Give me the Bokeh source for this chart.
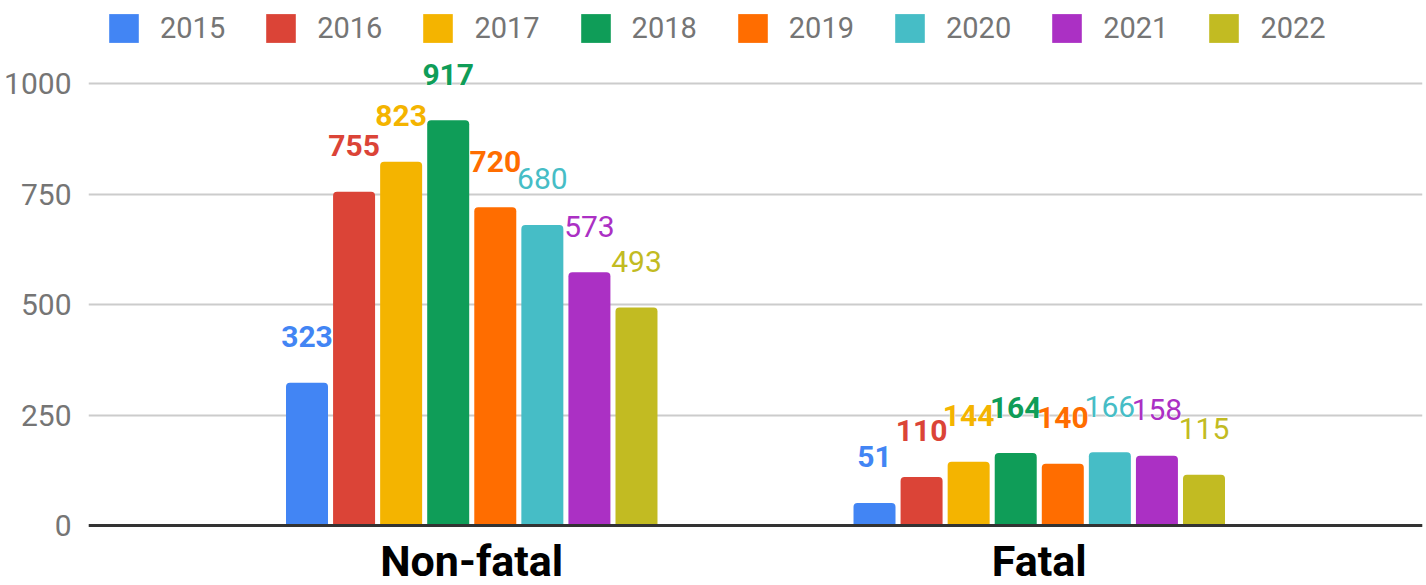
from bokeh.plotting import figure
from bokeh.models import FactorRange, Range1d, ColumnDataSource, Legend, LegendItem, FixedTicker, Span
from bokeh.transform import dodge
from bokeh.embed import file_html
from bokeh.resources import INLINE
from bokeh.core.properties import value

categories = ["Non-fatal", "Fatal"]
years = ["2015", "2016", "2017", "2018", "2019", "2020", "2021", "2022"]
values = {
    "2015": [323, 51],
    "2016": [755, 110],
    "2017": [823, 144],
    "2018": [917, 164],
    "2019": [720, 140],
    "2020": [680, 166],
    "2021": [573, 158],
    "2022": [493, 115],
}
colors = ["#4285F4", "#DB4437", "#F4B400", "#0F9D58", "#FF6D00", "#46BDC6", "#AB30C4", "#C2BB22"]
label_styles = ["bold", "bold", "bold", "bold", "bold", "normal", "normal", "normal"]
y_ticks = [0, 250, 500, 750, 1000]

FONT = "Roboto"

# frame spans window y 0..585; value 0 at y=525, 1000 at y=83
p = figure(
    width=1426, height=585,
    x_range=FactorRange(factors=categories, range_padding=0.1753, range_padding_units="absolute"),
    y_range=Range1d(-135.7, 1187.8),
    output_backend="svg", toolbar_location=None,
    min_border_left=88, min_border_right=4, min_border_top=0, min_border_bottom=0,
)
p.outline_line_color = None
p.background_fill_color = "white"

p.xaxis.visible = False
p.xgrid.grid_line_color = None
p.ygrid.grid_line_color = "#cccccc"
p.ygrid.grid_line_width = 2
p.yaxis.ticker = FixedTicker(ticks=y_ticks)
p.yaxis.axis_line_color = None
p.yaxis.major_tick_line_color = None
p.yaxis.minor_tick_line_color = None
p.yaxis.major_label_text_font = FONT
p.yaxis.major_label_text_font_size = "30px"
p.yaxis.major_label_text_color = "#757575"
p.yaxis.major_label_standoff = 11

bar_w = 0.074
step = 0.08294
items = []
for i, yr in enumerate(years):
    src = ColumnDataSource(dict(x=categories, y=values[yr], t=[str(v) for v in values[yr]]))
    off = (i - 3.5) * step
    r = p.vbar(x=dodge("x", off, range=p.x_range), top="y", width=bar_w, source=src,
               fill_color=colors[i], line_color=None, border_radius=(4, 4, 0, 0))
    items.append(LegendItem(label=yr, renderers=[r]))

for i, yr in enumerate(years):
    src = ColumnDataSource(dict(x=categories, y=values[yr], t=[str(v) for v in values[yr]]))
    off = (i - 3.5) * step
    # white halo
    p.text(x=dodge("x", off, range=p.x_range), y="y", text="t", source=src,
           text_color="white", text_font=value(FONT), text_font_size="30px",
           text_font_style=label_styles[i], text_align="center", text_baseline="middle",
           y_offset=-46, text_outline_color="white")
    p.text(x=dodge("x", off, range=p.x_range), y="y", text="t", source=src,
           text_color=colors[i], text_font=value(FONT), text_font_size="30px",
           text_font_style=label_styles[i], text_align="center", text_baseline="middle",
           y_offset=-46)

baseline = Span(location=0, dimension="width", line_color="#333333", line_width=3)
p.add_layout(baseline)

cat_src = ColumnDataSource(dict(x=categories, y=[0, 0]))
p.text(x="x", y="y", text="x", source=cat_src, text_color="#000000",
       text_font=value(FONT), text_font_size="43px", text_font_style="bold",
       text_align="center", text_baseline="middle", y_offset=35)

legend = Legend(items=items, orientation="horizontal", location=(17, 539),
                glyph_width=37, glyph_height=36, label_standoff=18, spacing=37,
                label_text_font=FONT, label_text_font_size="29px", label_text_color="#757575",
                background_fill_alpha=0, border_line_color=None, margin=0, padding=0)
p.add_layout(legend, "center")

open("out.html", "w").write(file_html(p, INLINE))
